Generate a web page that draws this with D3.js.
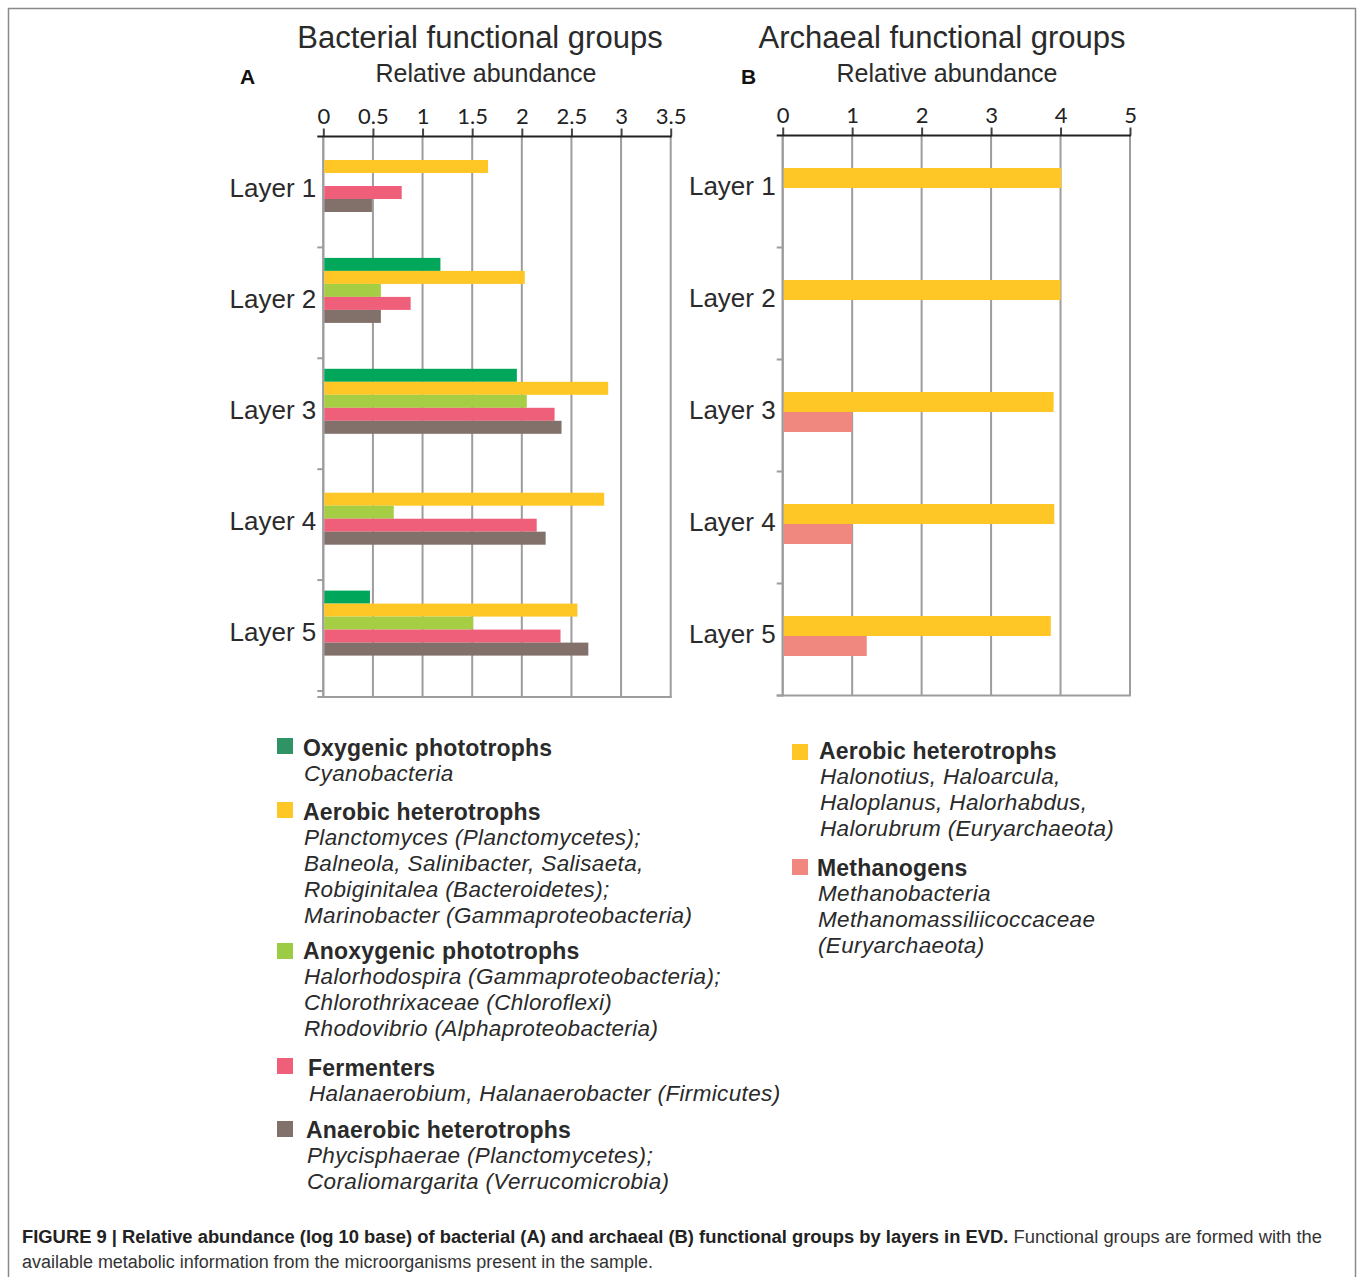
<!DOCTYPE html>
<html><head><meta charset="utf-8">
<script src="https://cdn.jsdelivr.net/npm/d3@7"></script>
<style>
html,body{margin:0;padding:0;background:#fff;}
svg{display:block;}
</style></head>
<body>
<svg id="chart" width="1358" height="1277"></svg>
<script>
// ---------- DATA ----------
const layers = ["Layer 1", "Layer 2", "Layer 3", "Layer 4", "Layer 5"];

const bacGroups = ["Oxygenic phototrophs", "Aerobic heterotrophs", "Anoxygenic phototrophs", "Fermenters", "Anaerobic heterotrophs"];
const bacColors = ["#00a65a", "#ffc726", "#a6ce45", "#ef5f7a", "#82706a"];
const bacLegendColors = ["#2e9466", "#ffc726", "#9ccb45", "#ef5f7a", "#82706a"];
// values per group, per layer (null = absent)
const oxygenic   = [null, 1.18, 1.95, null, 0.47];
const aerobicBac = [1.66, 2.03, 2.87, 2.83, 2.56];
const anoxygenic = [null, 0.58, 2.05, 0.71, 1.51];
const fermenters = [0.79, 0.88, 2.33, 2.15, 2.39];
const anaerobic  = [0.49, 0.58, 2.40, 2.24, 2.67];
const bacTicks = [0, 0.5, 1, 1.5, 2, 2.5, 3, 3.5];

const arcGroups = ["Aerobic heterotrophs", "Methanogens"];
const arcColors = ["#ffc726", "#f08880"];
const aerobicArc  = [4.01, 4.00, 3.90, 3.91, 3.86];
const methanogens = [null, null, 1.00, 1.00, 1.21];
const arcTicks = [0, 1, 2, 3, 4, 5];

const bacLegendText = [
  ["Cyanobacteria"],
  ["Planctomyces (Planctomycetes);", "Balneola, Salinibacter, Salisaeta,", "Robiginitalea (Bacteroidetes);", "Marinobacter (Gammaproteobacteria)"],
  ["Halorhodospira (Gammaproteobacteria);", "Chlorothrixaceae (Chloroflexi)", "Rhodovibrio (Alphaproteobacteria)"],
  ["Halanaerobium, Halanaerobacter (Firmicutes)"],
  ["Phycisphaerae (Planctomycetes);", "Coraliomargarita (Verrucomicrobia)"]
];
const arcLegendText = [
  ["Halonotius, Haloarcula,", "Haloplanus, Halorhabdus,", "Halorubrum (Euryarchaeota)"],
  ["Methanobacteria", "Methanomassiliicoccaceae", "(Euryarchaeota)"]
];

// ---------- DRAW ----------
const svg = d3.select("#chart");
const SANS = "'Liberation Sans', Arial, Helvetica, sans-serif";

// frame
svg.append("rect").attr("x", 8.5).attr("y", 8.5).attr("width", 1347).attr("height", 1320)
  .attr("fill", "none").attr("stroke", "#8a8a8a").attr("stroke-width", 1.5);

function panel(opt) {
  const g = svg.append("g");
  const x = d3.scaleLinear().domain(opt.domain).range(opt.xRange);
  const y = d3.scaleBand().domain(layers).range(opt.yRange).padding(0);
  const inner = d3.scaleBand().domain(opt.groups).range(opt.innerRange).padding(0);
  const [x0, x1] = opt.xRange, y0 = opt.yRange[0], yb = opt.bottom;

  // gridlines
  g.append("g").selectAll("line").data(opt.ticks).join("line")
    .attr("x1", d => x(d)).attr("x2", d => x(d))
    .attr("y1", y0).attr("y2", yb)
    .attr("stroke", "#9d9d9d").attr("stroke-width", 2);

  // left axis line and band ticks
  g.append("line").attr("x1", x0).attr("x2", x0).attr("y1", y0).attr("y2", yb + 1)
    .attr("stroke", "#9d9d9d").attr("stroke-width", 2);
  g.append("line").attr("x1", x0 - 6).attr("x2", x1 + 1).attr("y1", yb).attr("y2", yb)
    .attr("stroke", "#9d9d9d").attr("stroke-width", 2);
  g.append("g").selectAll("line").data(layers).join("line")
    .attr("x1", x0 - 6).attr("x2", x0)
    .attr("y1", d => y(d) + y.bandwidth()).attr("y2", d => y(d) + y.bandwidth())
    .attr("stroke", "#9d9d9d").attr("stroke-width", 2);

  // bars
  opt.series.forEach((vals, si) => {
    g.append("g").selectAll("rect")
      .data(layers.map((l, i) => ({ l, v: vals[i] })).filter(d => d.v != null))
      .join("rect")
      .attr("x", x(0) + 1)
      .attr("y", d => y(d.l) + inner(opt.groups[si]))
      .attr("width", d => x(d.v) - x(0) - 1)
      .attr("height", inner.bandwidth())
      .attr("fill", opt.colors[si]);
  });

  // top axis
  const ax = g.append("g").attr("transform", `translate(0,${y0})`)
    .call(d3.axisTop(x).tickValues(opt.ticks).tickSize(8).tickSizeOuter(0).tickPadding(5)
      .tickFormat(d => String(d)));
  ax.select(".domain").remove();
  ax.selectAll(".tick line").attr("stroke", "#444").attr("stroke-width", 2);
  ax.selectAll(".tick text").attr("font-family", "Lato, 'Open Sans', sans-serif")
    .attr("font-size", 22).attr("fill", "#222");
  g.append("line").attr("x1", x0 - 6).attr("x2", x1 + 1).attr("y1", y0).attr("y2", y0)
    .attr("stroke", "#222").attr("stroke-width", 2);

  // layer labels
  g.append("g").selectAll("text").data(layers).join("text")
    .attr("x", x0 - 7).attr("y", d => y(d) + y.bandwidth() / 2 + opt.labelDy)
    .attr("text-anchor", "end").attr("font-family", SANS).attr("font-size", 26)
    .attr("fill", "#2a2a2a").text(d => d);

  // titles
  g.append("text").attr("x", opt.titleX).attr("y", 48).attr("text-anchor", "middle")
    .attr("font-family", SANS).attr("font-size", 31).attr("fill", "#2a2a2a").text(opt.title);
  g.append("text").attr("x", opt.subX).attr("y", 82).attr("text-anchor", "middle")
    .attr("font-family", SANS).attr("font-size", 25).attr("fill", "#2a2a2a").text("Relative abundance");
  g.append("text").attr("x", opt.letterX).attr("y", 84)
    .attr("font-family", SANS).attr("font-weight", "bold").attr("font-size", 21)
    .attr("fill", "#111").text(opt.letter);
}

panel({
  domain: [0, 3.5], xRange: [323.3, 670.7], yRange: [136.5, 691], bottom: 697,
  groups: bacGroups, colors: bacColors, innerRange: [10.5, 75.5],
  series: [oxygenic, aerobicBac, anoxygenic, fermenters, anaerobic],
  ticks: bacTicks, title: "Bacterial functional groups", titleX: 480, subX: 486,
  letter: "A", letterX: 240, labelDy: 5
});
panel({
  domain: [0, 5], xRange: [782.7, 1130], yRange: [135.5, 695.5], bottom: 695.5,
  groups: arcGroups, colors: arcColors, innerRange: [32.5, 72.5],
  series: [aerobicArc, methanogens],
  ticks: arcTicks, title: "Archaeal functional groups", titleX: 942, subX: 947,
  letter: "B", letterX: 741, labelDy: 3
});

// ---------- LEGENDS ----------
function legend(items, colors, texts, sqX, layout) {
  const g = svg.append("g");
  items.forEach((name, i) => {
    const L = layout[i];
    g.append("rect").attr("x", sqX).attr("y", L.sq).attr("width", 16).attr("height", 16)
      .attr("fill", colors[i]);
    g.append("text").attr("x", L.tx).attr("y", L.base)
      .attr("font-family", SANS).attr("font-weight", "bold").attr("font-size", 23)
      .attr("letter-spacing", 0.2)
      .attr("fill", "#2a2a2a").text(name);
    texts[i].forEach((t, j) => {
      g.append("text").attr("x", L.tx + 1).attr("y", L.base + 26 * (j + 1) - 1)
        .attr("font-family", SANS).attr("font-style", "italic").attr("font-size", 22.5)
        .attr("letter-spacing", 0.35)
        .attr("fill", "#2a2a2a").text(t);
    });
  });
}
legend(bacGroups, bacLegendColors, bacLegendText, 277, [
  { sq: 738, tx: 303, base: 756 },
  { sq: 802, tx: 303, base: 820 },
  { sq: 943, tx: 303, base: 959 },
  { sq: 1058, tx: 308, base: 1076 },
  { sq: 1121, tx: 306, base: 1138 }
]);
legend(arcGroups, arcColors, arcLegendText, 792, [
  { sq: 744, tx: 819, base: 759 },
  { sq: 859, tx: 817, base: 876 }
]);

// ---------- CAPTION ----------
const cap1 = svg.append("text").attr("x", 22).attr("y", 1243)
  .attr("font-family", SANS).attr("font-size", 18).attr("fill", "#222")
  .attr("textLength", 1300).attr("lengthAdjust", "spacingAndGlyphs");
cap1.append("tspan").attr("font-weight", "bold")
  .text("FIGURE 9 | Relative abundance (log 10 base) of bacterial (A) and archaeal (B) functional groups by layers in EVD.");
cap1.append("tspan").attr("fill", "#333").text(" Functional groups are formed with the");
svg.append("text").attr("x", 22).attr("y", 1268)
  .attr("font-family", SANS).attr("font-size", 18).attr("fill", "#333")
  .attr("textLength", 631).attr("lengthAdjust", "spacingAndGlyphs")
  .text("available metabolic information from the microorganisms present in the sample.");
</script>
</body></html>
